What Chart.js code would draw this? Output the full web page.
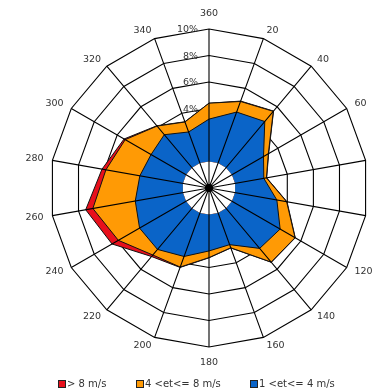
<!DOCTYPE html>
<html><head><meta charset="utf-8">
<script src="https://cdn.jsdelivr.net/npm/chart.js@4"></script>
<style>html,body{margin:0;padding:0;background:#fff}canvas{display:block}</style>
</head><body>
<canvas id="c" width="373" height="390"></canvas>
<script>
// Wind directions (degrees, clockwise from north)
const directions = ['360','20','40','60','80','100','120','140','160','180','200','220','240','260','280','300','320','340'];
// Frequency (%) per speed class and direction
const speed1to4   = [3.2, 4.1, 4.55, 2.75, 2.2, 3.2, 4.2, 3.95, 2.55, 2.75, 3.5, 4.05, 4.05, 3.65, 3.3, 3.05, 3.25, 2.5];
const speed4to8   = [1.2, 0.85, 1.0, 0.42, 0.2, 0.75, 1.3, 1.35, 0.25, 0.5, 0.85, 0.55, 1.85, 3.25, 2.6, 2.25, 0.85, 0.8];
const speedAbove8 = [0, 0.03, 0.03, 0.03, 0.02, 0.03, 0.02, 0.02, 0.02, 0.02, 0.03, 0.15, 0.55, 0.55, 0.3, 0.1, 0.03, 0.02];
const seriesNames = ['> 8 m/s', '4 <et<= 8 m/s', '1 <et<= 4 m/s'];
const seriesColors = ['#e8101c', '#ff9a05', '#0a64c8'];
const ringLabels = [2, 4, 6, 8, 10];
const radialMin = -2, radialMax = 10, radialStep = 2;

// cumulative (stacked) values for drawing
const cum1 = speed1to4.slice();
const cum2 = cum1.map((v, i) => v + speed4to8[i]);
const cum3 = cum2.map((v, i) => v + speedAbove8[i]);

const FONT = '"DejaVu Sans", "Liberation Sans", Arial, sans-serif';
const TXT = '#333';

const overlay = {
  id: 'overlay',
  beforeDatasetsDraw(chart) {
    const s = chart.scales.r, ctx = chart.ctx;
    ctx.save();
    ctx.font = '9.5px ' + FONT;
    ctx.fillStyle = TXT;
    ctx.textAlign = 'right';
    ctx.textBaseline = 'middle';
    ringLabels.forEach(v => {
      const p = s.getPointPositionForValue(0, v);
      ctx.fillText(v + '%', p.x - 11, p.y + 1);
    });
    ctx.restore();
  },
  afterDatasetsDraw(chart) {
    const s = chart.scales.r, ctx = chart.ctx;
    ctx.save();
    ctx.strokeStyle = '#000';
    ctx.lineWidth = 1.1;
    ctx.beginPath();
    for (let i = 0; i < directions.length; i++) {
      const p = s.getPointPositionForValue(i, s.max);
      ctx.moveTo(s.xCenter, s.yCenter);
      ctx.lineTo(p.x, p.y);
    }
    ctx.stroke();
    ctx.beginPath();
    ctx.arc(s.xCenter, s.yCenter, 4, 0, Math.PI * 2);
    ctx.fillStyle = '#000';
    ctx.fill();
    // direction labels
    ctx.font = '9.5px ' + FONT;
    ctx.fillStyle = TXT;
    directions.forEach((lab, i) => {
      const a = i * 360 / directions.length;
      const vertical = (a === 0 || a === 180);
      const p = s.getPointPosition(i, s.drawingArea + (vertical ? 11 : 9));
      ctx.textAlign = vertical ? 'center' : (a < 180 ? 'left' : 'right');
      ctx.textBaseline = a === 0 ? 'bottom' : (a === 180 ? 'top' : 'middle');
      ctx.fillText(lab, p.x, p.y);
    });
    ctx.restore();
  },
  afterDraw(chart) {
    const ctx = chart.ctx;
    const xs = [58, 136, 250];
    const y = 384;
    ctx.save();
    ctx.font = '10px ' + FONT;
    ctx.textBaseline = 'middle';
    ctx.textAlign = 'left';
    seriesNames.forEach((name, i) => {
      ctx.fillStyle = seriesColors[i];
      ctx.fillRect(xs[i] + 0.5, y - 3.5, 7, 7);
      ctx.strokeStyle = '#222';
      ctx.lineWidth = 1;
      ctx.strokeRect(xs[i] + 0.5, y - 3.5, 7, 7);
      ctx.fillStyle = TXT;
      ctx.fillText(name, xs[i] + 9, y);
    });
    ctx.restore();
  }
};

new Chart(document.getElementById('c'), {
  type: 'radar',
  data: {
    labels: directions,
    datasets: [
      { label: seriesNames[0], data: cum3, backgroundColor: seriesColors[0], borderColor: '#111', borderWidth: 1, fill: 'origin', pointRadius: 0, order: 3 },
      { label: seriesNames[1], data: cum2, backgroundColor: seriesColors[1], borderColor: '#111', borderWidth: 1, fill: 'origin', pointRadius: 0, order: 2 },
      { label: seriesNames[2], data: cum1, backgroundColor: seriesColors[2], borderColor: '#111', borderWidth: 1, fill: 'origin', pointRadius: 0, order: 1 }
    ]
  },
  options: {
    responsive: false,
    animation: false,
    devicePixelRatio: 1,
    layout: { padding: { left: 50, right: 5, top: 29, bottom: 43 } },
    plugins: { legend: { display: false }, tooltip: { enabled: false } },
    elements: { line: { tension: 0 } },
    scales: {
      r: {
        min: radialMin, max: radialMax,
        startAngle: 0,
        ticks: { display: false, stepSize: radialStep },
        grid: { circular: false, lineWidth: 1.1, color: c => (c.tick && c.tick.value > 0) ? '#000' : 'rgba(0,0,0,0)' },
        angleLines: { display: false },
        pointLabels: { display: false }
      }
    }
  },
  plugins: [overlay]
});
</script>
</body></html>
